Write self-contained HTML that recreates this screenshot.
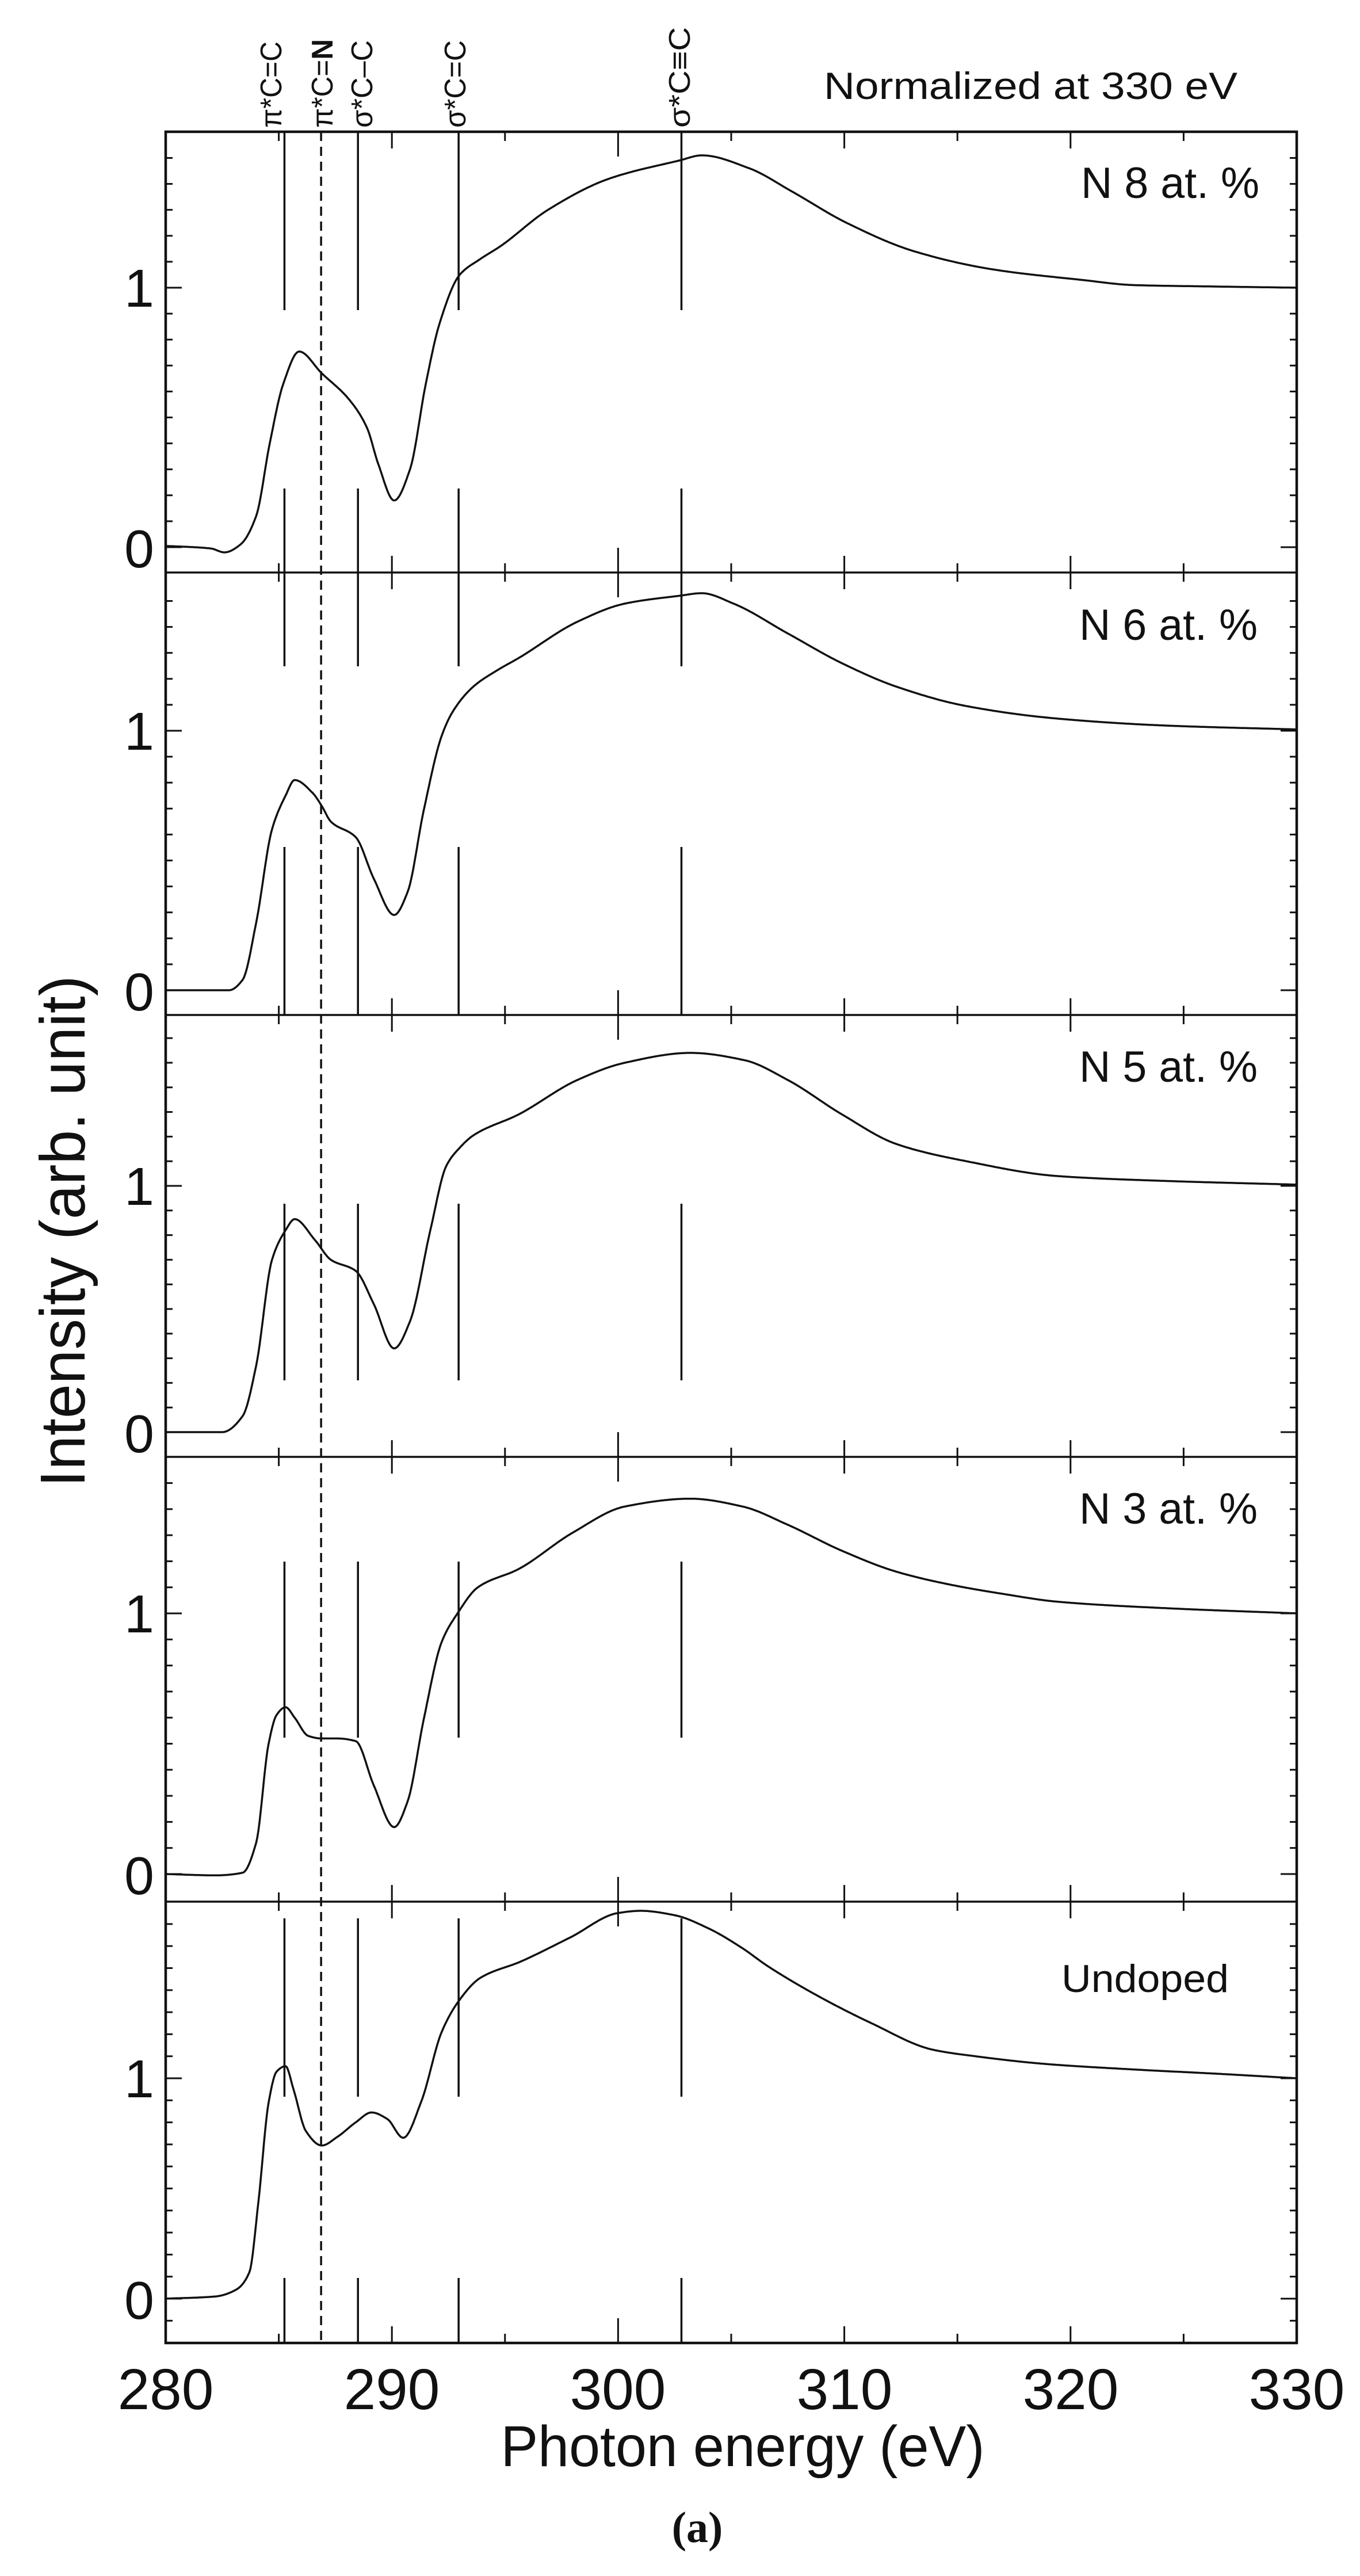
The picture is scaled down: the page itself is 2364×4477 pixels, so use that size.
<!DOCTYPE html>
<html><head><meta charset="utf-8">
<style>
html,body{margin:0;padding:0;background:#fff;}
svg{display:block;}
text{font-family:"Liberation Sans",Arial,sans-serif;fill:#111;}
</style></head>
<body>
<svg id="s" xmlns="http://www.w3.org/2000/svg" width="2364" height="4477" viewBox="0 0 2364 4477">
<rect width="2364" height="4477" fill="#fff"/>
<g id="g"></g>
<g font-size="52">
<text transform="translate(489,222) rotate(-90)" textLength="150" lengthAdjust="spacingAndGlyphs">π*C=C</text>
<text transform="translate(578,222) rotate(-90)" textLength="154" lengthAdjust="spacingAndGlyphs">π*C=<tspan font-weight="bold">N</tspan></text>
<text transform="translate(647,222) rotate(-90)" textLength="152" lengthAdjust="spacingAndGlyphs">σ*C–C</text>
<text transform="translate(809,222) rotate(-90)" textLength="152" lengthAdjust="spacingAndGlyphs">σ*C=C</text>
<text transform="translate(1199,222) rotate(-90)" textLength="175" lengthAdjust="spacingAndGlyphs">σ*C≡C</text>
</g>
<text x="1432" y="172" font-size="66" textLength="719" lengthAdjust="spacingAndGlyphs">Normalized  at 330 eV</text>
<g font-size="76">
<text x="1879" y="344" textLength="310" lengthAdjust="spacingAndGlyphs">N 8 at. %</text>
<text x="1876" y="1112" textLength="310" lengthAdjust="spacingAndGlyphs">N 6 at. %</text>
<text x="1876" y="1880" textLength="310" lengthAdjust="spacingAndGlyphs">N 5 at. %</text>
<text x="1876" y="2648" textLength="310" lengthAdjust="spacingAndGlyphs">N 3 at. %</text>
</g>
<text x="1845" y="3462" font-size="68" textLength="291" lengthAdjust="spacingAndGlyphs">Undoped</text>
<g font-size="93" text-anchor="middle">
<text x="242" y="986">0</text><text x="242" y="533">1</text>
<text x="242" y="1756">0</text><text x="242" y="1303">1</text>
<text x="242" y="2524">0</text><text x="242" y="2094">1</text>
<text x="242" y="3292">0</text><text x="242" y="2837">1</text>
<text x="242" y="4030">0</text><text x="242" y="3645">1</text>
</g>
<text transform="translate(147,2140) rotate(-90)" font-size="110" text-anchor="middle" textLength="889" lengthAdjust="spacingAndGlyphs">Intensity (arb. unit)</text>
<g font-size="100" text-anchor="middle">
<text x="288" y="4187">280</text><text x="681" y="4187">290</text><text x="1074" y="4187">300</text>
<text x="1468" y="4187">310</text><text x="1861" y="4187">320</text><text x="2254" y="4187">330</text>
</g>
<text x="1291" y="4286" font-size="100" text-anchor="middle" textLength="841" lengthAdjust="spacingAndGlyphs">Photon energy (eV)</text>
<text x="1212" y="4418" font-size="76" text-anchor="middle" font-weight="bold" style="font-family:'Liberation Serif',serif">(a)</text>
</svg>
<script>
(function(){
var NS="http://www.w3.org/2000/svg",g=document.getElementById('g');
function X(e){return 288+(e-280)*39.32;}
function el(t,a){var n=document.createElementNS(NS,t);for(var k in a)n.setAttribute(k,a[k]);g.appendChild(n);return n;}
function line(x1,y1,x2,y2,w,extra){var a={x1:x1,y1:y1,x2:x2,y2:y2,stroke:'#111','stroke-width':w||3};if(extra)for(var k in extra)a[k]=extra[k];el('line',a);}
var P=[[229,995,951,500],[995,1764,1721,1270],[1764,2532,2489,2061],[2532,3305,3257,2804],[3305,4072,3995,3612]];
var D=[
[[280,0.005],[282,-0.005],[282.6,-0.02],[283.3,0.01],[284,0.12],[284.6,0.40],[285.2,0.63],[285.9,0.754],[286.9,0.67],[288.1,0.57],[288.9,0.46],[289.4,0.32],[290.1,0.18],[290.8,0.30],[291.5,0.63],[292.1,0.86],[293,1.05],[293.9,1.11],[294.8,1.16],[296.9,1.30],[299.6,1.42],[302.7,1.49],[303.7,1.51],[305.8,1.46],[307.7,1.37],[310.1,1.25],[313.1,1.14],[316.6,1.07],[320.5,1.03],[322.8,1.01],[326,1.005],[330,1.0]],
[[280,0],[282.8,0],[283.4,0.04],[284,0.26],[284.7,0.62],[285.3,0.75],[285.7,0.81],[286.5,0.76],[286.9,0.71],[287.3,0.65],[288.4,0.59],[289.2,0.43],[290.1,0.29],[290.7,0.38],[291.4,0.69],[292.2,0.98],[292.7,1.075],[293.6,1.17],[294.6,1.23],[295.6,1.28],[298.2,1.42],[300.3,1.49],[302.7,1.52],[303.7,1.53],[305.1,1.49],[307.5,1.375],[309.9,1.26],[312.3,1.17],[315.4,1.095],[319.4,1.047],[324.2,1.02],[330,1.005]],
[[280,0],[282.5,0],[283.4,0.065],[284,0.27],[284.7,0.70],[285.3,0.82],[285.7,0.865],[286.6,0.78],[287.3,0.70],[288.4,0.655],[289.2,0.52],[290.1,0.34],[290.8,0.45],[291.7,0.82],[292.4,1.08],[293,1.155],[293.6,1.205],[295.6,1.29],[298.2,1.43],[300.3,1.50],[303.2,1.54],[305.6,1.51],[307.5,1.43],[309.9,1.29],[312.3,1.17],[315.4,1.10],[319.4,1.04],[324.2,1.02],[330,1.005]],
[[280,0],[282.2,-0.005],[283.4,0.005],[284,0.12],[284.55,0.50],[284.9,0.61],[285.3,0.64],[285.7,0.60],[286.3,0.53],[286.9,0.52],[287.6,0.52],[288.4,0.51],[289.2,0.34],[290.1,0.18],[290.7,0.28],[291.4,0.59],[292.2,0.89],[292.9,1.0],[293.8,1.10],[295.6,1.17],[298,1.31],[300.3,1.41],[303.2,1.44],[305.5,1.41],[307.5,1.34],[309.9,1.24],[312.3,1.16],[314.7,1.11],[317,1.075],[319.4,1.045],[324.2,1.02],[330,1.0]],
[[280,0],[282.2,0.01],[283.1,0.04],[283.7,0.12],[284.1,0.44],[284.55,0.89],[284.9,1.03],[285.3,1.055],[285.65,0.95],[286.2,0.76],[286.9,0.695],[287.6,0.735],[288.4,0.80],[289.1,0.845],[289.8,0.815],[290.5,0.73],[291.3,0.895],[292.2,1.21],[292.95,1.35],[293.9,1.455],[295.7,1.53],[297.9,1.64],[300,1.75],[301,1.76],[302.5,1.74],[304,1.68],[305.5,1.59],[306.6,1.51],[308.9,1.37],[311.2,1.25],[313.9,1.13],[315.8,1.10],[318.9,1.065],[322.8,1.04],[326.6,1.02],[330,1.0]]
];
function mono(pts){var n=pts.length,xs=[],ys=[],d=[],m=[];for(var i=0;i<n;i++){xs.push(pts[i][0]);ys.push(pts[i][1]);}
for(i=0;i<n-1;i++)d.push((ys[i+1]-ys[i])/(xs[i+1]-xs[i]));
m[0]=d[0];m[n-1]=d[n-2];for(i=1;i<n-1;i++){if(d[i-1]*d[i]<=0)m[i]=0;else{var h0=xs[i]-xs[i-1],h1=xs[i+1]-xs[i];var w1=2*h1+h0,w2=h1+2*h0;m[i]=(w1+w2)/(w1/d[i-1]+w2/d[i]);}}
return function(x){var k=0;while(k<n-2&&x>xs[k+1])k++;var h=xs[k+1]-xs[k],t=(x-xs[k])/h,t2=t*t,t3=t2*t;
return (2*t3-3*t2+1)*ys[k]+(t3-2*t2+t)*h*m[k]+(-2*t3+3*t2)*ys[k+1]+(t3-t2)*h*m[k+1];};}
P.forEach(function(p,i){
 var top=p[0],bot=p[1],y0=p[2],y1=p[3],u=y0-y1;
 for(var v=-0.3;v<=1.9;v+=0.1){var vv=Math.round(v*10)/10;var y=y0-vv*u;if(y<top+6||y>bot-6)continue;
   var L=(vv===0||vv===1)?28:12;line(288,y,288+L,y,3);line(2254,y,2254-L,y,3);}
 for(var e=285;e<330;e+=5){var L=(e===300)?43:(e%10===0?29:16);var x=X(e);line(x,top,x,top+L,3);line(x,bot,x,bot-L,3);}
 var f=mono(D[i]),s='';for(var e2=280;e2<=330.001;e2+=0.05){s+=(s?'L':'M')+X(e2).toFixed(1)+','+(y0-f(e2)*u).toFixed(1);}
 el('path',{d:s,fill:'none',stroke:'#111','stroke-width':3.5,'stroke-linejoin':'round'});
 if(i>0)line(288,top,2254,top,3.5);
});
var segs=[[229,539],[849,1158],[1472,1764],[2092,2399],[2714,3020],[3334,3644],[3959,4072]];
[285.25,288.5,292.95,302.8].forEach(function(e){var x=X(e);segs.forEach(function(s){line(x,s[0],x,s[1],3.5);});});
line(X(286.87),229,X(286.87),4072,3.5,{'stroke-dasharray':'16 10'});
el('rect',{x:288,y:229,width:1966,height:3843,fill:'none',stroke:'#111','stroke-width':4.5});
})();
</script>
</body></html>
